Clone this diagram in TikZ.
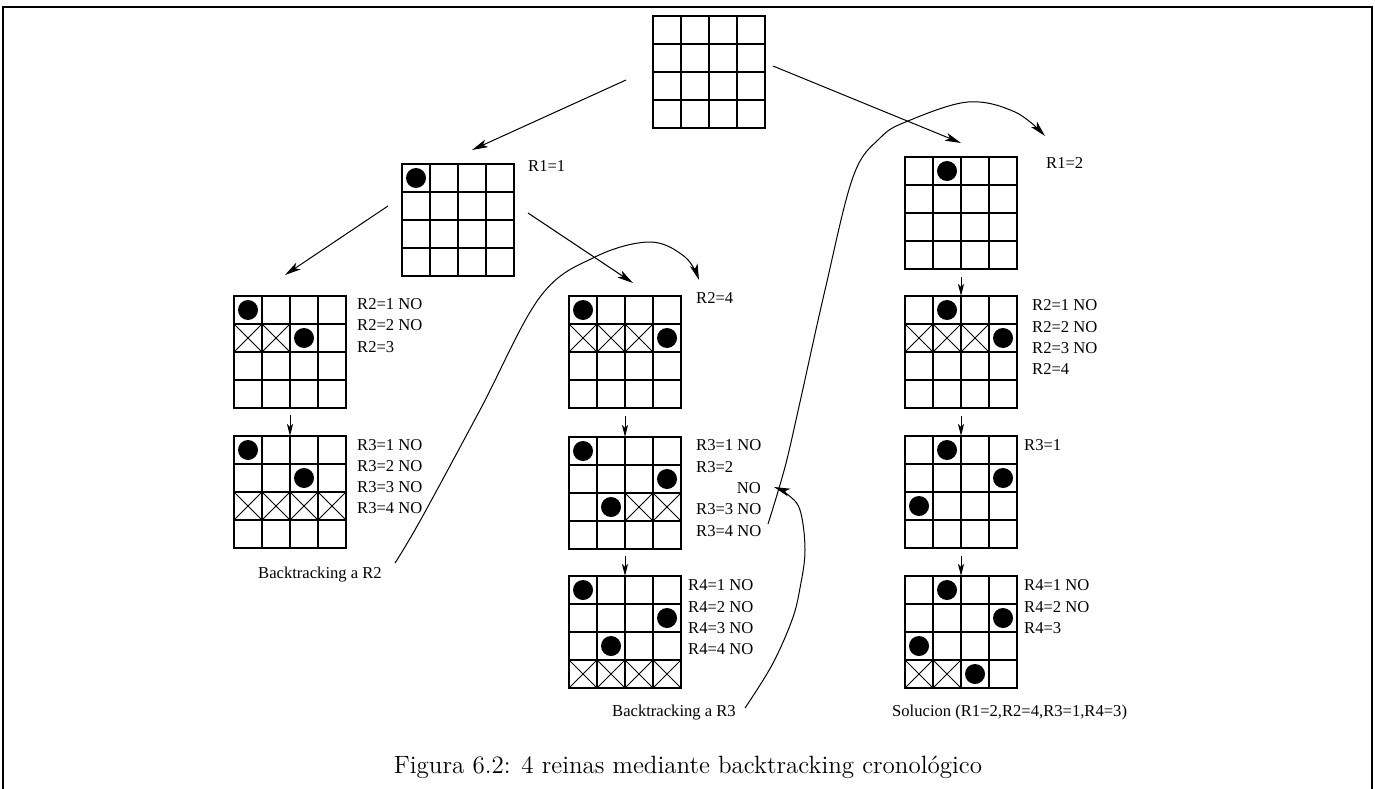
\documentclass[tikz,border=0pt]{standalone}
\usepackage{fontspec}
\newfontfamily\lblfont{Liberation Serif}
\newfontfamily\capfont{lmroman12-regular}[Extension=.otf]
\usetikzlibrary{arrows.meta,calc}

% 4x4 board: name, left x, top y
\newcommand\qboard[3]{%
  \node[boardbox] (#1) at (#2,#3) {};
  \foreach \k in {1,2,3}{
    \draw[gridline] ($(#1.north west)+(\k*28,0)$) -- ++(0,112);
    \draw[gridline] ($(#1.north west)+(0,\k*28)$) -- ++(112,0);
  }}
% queen on board #1 at row #2, column #3
\newcommand\queen[3]{\fill ($(#1.north west)+(#3*28-14,#2*28-14)$) circle[radius=10pt];}
% crossed-out cell on board #1 at row #2, column #3
\newcommand\xcell[3]{\draw[crossline] ($(#1.north west)+(#3*28-28,#2*28-28)$) -- ++(28,28) ++(-28,0) -- ++(28,-28);}
% stacked labels: name prefix, x, first baseline, list
\newcommand\lbls[4]{%
  \foreach \t [count=\n] in {#4}
    \node[lbl] (#1-\n) at (#2,#3+\n*21.3-21.3) {\t};}

\begin{document}
\begin{tikzpicture}[x=1pt,y=-1pt,
  boardbox/.style={draw, line width=1.3pt, minimum size=112pt, inner sep=0pt, outer sep=0pt, anchor=north west},
  gridline/.style={line width=1.2pt},
  crossline/.style={line width=1pt},
  link/.style={line width=1pt, -{Stealth[length=16pt,width=8pt,inset=4pt]}},
  drop/.style={line width=1pt, -{Stealth[length=12pt,width=6pt,inset=3pt]}},
  lbl/.style={font=\lblfont\fontsize{16.6}{20}\selectfont, inner sep=0pt, anchor=base west},
]
\useasboundingbox (0,0) rectangle (1375,789);
\fill[white] (0,0) rectangle (1375,789);
\draw[line width=2pt] (3,795) -- (3,7) -- (1372,7) -- (1372,795);

% boards
\qboard{b0}{653}{16}
\qboard{b1}{402}{164}  \queen{b1}{1}{1}
\qboard{b2}{905}{157}  \queen{b2}{1}{2}
\qboard{l2}{234}{296}  \queen{l2}{1}{1} \xcell{l2}{2}{1} \xcell{l2}{2}{2} \queen{l2}{2}{3}
\qboard{l3}{234}{436}  \queen{l3}{1}{1} \queen{l3}{2}{3}
  \xcell{l3}{3}{1} \xcell{l3}{3}{2} \xcell{l3}{3}{3} \xcell{l3}{3}{4}
\qboard{m2}{569}{296}  \queen{m2}{1}{1} \xcell{m2}{2}{1} \xcell{m2}{2}{2} \xcell{m2}{2}{3} \queen{m2}{2}{4}
\qboard{m3}{569}{437}  \queen{m3}{1}{1} \queen{m3}{2}{4} \queen{m3}{3}{2} \xcell{m3}{3}{3} \xcell{m3}{3}{4}
\qboard{m4}{569}{576}  \queen{m4}{1}{1} \queen{m4}{2}{4} \queen{m4}{3}{2}
  \xcell{m4}{4}{1} \xcell{m4}{4}{2} \xcell{m4}{4}{3} \xcell{m4}{4}{4}
\qboard{r2}{905}{296}  \queen{r2}{1}{2} \xcell{r2}{2}{1} \xcell{r2}{2}{2} \xcell{r2}{2}{3} \queen{r2}{2}{4}
\qboard{r3}{905}{436}  \queen{r3}{1}{2} \queen{r3}{2}{4} \queen{r3}{3}{1}
\qboard{r4}{905}{576}  \queen{r4}{1}{2} \queen{r4}{2}{4} \queen{r4}{3}{1}
  \xcell{r4}{4}{1} \xcell{r4}{4}{2} \queen{r4}{4}{3}

% labels
\node[lbl] (t1) at (528,171) {R1=1};
\node[lbl] (t2) at (1046,168) {R1=2};
\lbls{tl2}{357}{309.5}{R2=1 NO, R2=2 NO, R2=3}
\lbls{tl3}{357}{450}{R3=1 NO, R3=2 NO, R3=3 NO, R3=4 NO}
\node[lbl] (tm2) at (696,303) {R2=4};
\lbls{tm3}{696}{450.7}{R3=1 NO, R3=2}
\node[lbl, anchor=base east] (tm3no) at (761,493.3) {NO};
\lbls{tm3b}{696}{514.7}{R3=3 NO, R3=4 NO}
\lbls{tm4}{688}{590.7}{R4=1 NO, R4=2 NO, R4=3 NO, R4=4 NO}
\lbls{tr2}{1032}{310.7}{R2=1 NO, R2=2 NO, R2=3 NO, R2=4}
\node[lbl] (tr3) at (1024,450.7) {R3=1};
\lbls{tr4}{1024}{590.7}{R4=1 NO, R4=2 NO, R4=3}
\node[lbl] (bt2) at (258,578) {Backtracking a R2};
\node[lbl] (bt3) at (612,716) {Backtracking a R3};
\node[lbl] (sol) at (892,716.7) {Solucion (R1=2,R2=4,R3=1,R4=3)};

% tree arrows
\coordinate (a0s) at (626,80);  \coordinate (a0e) at (472,150);
\coordinate (a1s) at (773,66);  \coordinate (a1e) at (961,143);
\coordinate (a2s) at (388,206); \coordinate (a2e) at (285,275);
\coordinate (a3s) at (528,213); \coordinate (a3e) at (633,283);
\draw[link] (a0s) -- (a0e);
\draw[link] (a1s) -- (a1e);
\draw[link] (a2s) -- (a2e);
\draw[link] (a3s) -- (a3e);

% steps down a column
\draw[drop] ($(b2.south)+(0,8)$) -- (r2.north);
\draw[drop] ($(l2.south)+(0,7)$) -- (l3.north);
\draw[drop] ($(m2.south)+(0,8)$) -- (m3.north);
\draw[drop] ($(m3.south)+(0,7)$) -- (m4.north);
\draw[drop] ($(r2.south)+(0,8)$) -- (r3.north);
\draw[drop] ($(r3.south)+(0,8)$) -- (r4.north);

% backtracking curves
\coordinate (c1s) at (395,563); \coordinate (c1e) at (699,280);
\coordinate (c2s) at (768,524); \coordinate (c2e) at (1045,136);
\coordinate (c3s) at (745,708); \coordinate (c3e) at (774,487);
\draw[link] plot[smooth, tension=0.6] coordinates {(c1s) (420,521) (480,410) (540,297) (595,257) (650,242) (685,257) (c1e)};
\draw[link] plot[smooth, tension=0.6] coordinates {(c2s) (785,467) (800,402) (825,290) (853,177) (880,138) (908,121) (968,102) (1015,112) (c2e)};
\draw[link] plot[smooth, tension=0.6] coordinates {(c3s) (772,665) (792,620) (800,588) (805,550) (800,510) (787,494) (c3e)};

% caption
\node[font=\capfont\fontsize{25}{30}\selectfont, anchor=base, inner sep=0pt] (caption) at (688,773)
  {Figura 6.2: 4 reinas mediante backtracking cronológico};
\end{tikzpicture}
\end{document}
